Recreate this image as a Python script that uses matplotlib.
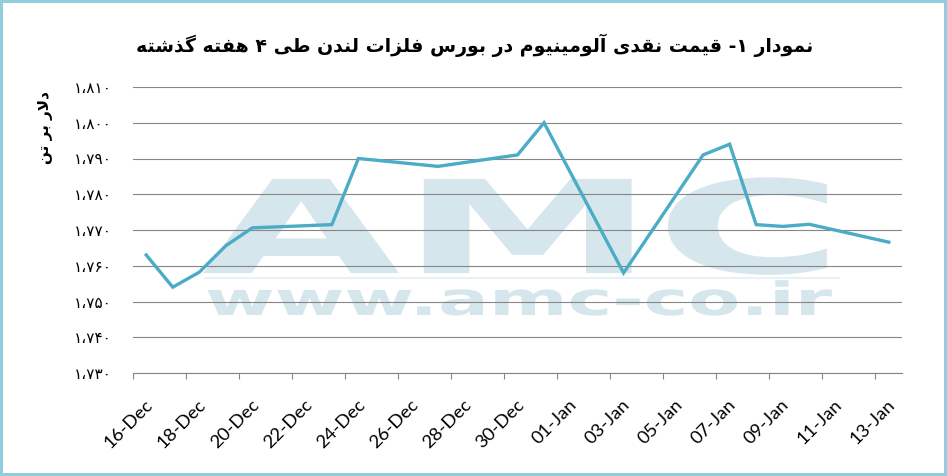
import numpy as np
import matplotlib
matplotlib.use("Agg")
import matplotlib.pyplot as plt
from matplotlib.patches import Rectangle
from matplotlib.lines import Line2D
from matplotlib.patheffects import AbstractPathEffect
from matplotlib.transforms import Affine2D, ScaledTranslation

# ---------------- data ----------------
dates = ["2013-12-16", "2013-12-17", "2013-12-18", "2013-12-19", "2013-12-20",
         "2013-12-23", "2013-12-24", "2013-12-27", "2013-12-30", "2013-12-31",
         "2014-01-03", "2014-01-06", "2014-01-07", "2014-01-08", "2014-01-09",
         "2014-01-10", "2014-01-13"]
prices = [1763.0, 1754.0, 1758.2, 1765.6, 1770.6,
          1771.5, 1790.0, 1787.8, 1791.0, 1800.0,
          1758.0, 1791.0, 1794.0, 1771.5, 1771.0,
          1771.6, 1766.6]
x_tick_dates = ["2013-12-16", "2013-12-18", "2013-12-20", "2013-12-22", "2013-12-24",
                "2013-12-26", "2013-12-28", "2013-12-30", "2014-01-01", "2014-01-03",
                "2014-01-05", "2014-01-07", "2014-01-09", "2014-01-11", "2014-01-13"]
x_tick_labels = ["16-Dec", "18-Dec", "20-Dec", "22-Dec", "24-Dec", "26-Dec", "28-Dec",
                 "30-Dec", "01-Jan", "03-Jan", "05-Jan", "07-Jan", "09-Jan", "11-Jan", "13-Jan"]
y_ticks = [1730, 1740, 1750, 1760, 1770, 1780, 1790, 1800, 1810]
y_tick_labels = ["۱،۷۳۰", "۱،۷۴۰", "۱،۷۵۰", "۱،۷۶۰", "۱،۷۷۰", "۱،۷۸۰", "۱،۷۹۰", "۱،۸۰۰", "۱،۸۱۰"]
title_text = "نمودار ۱- قیمت نقدی آلومینیوم در بورس فلزات لندن طی ۴ هفته گذشته"
ylabel_text = "دلار بر تن"
watermark_big = "AMC"
watermark_url = "www.amc-co.ir"

# ---------------- minimal Persian shaping ----------------
FORMS = {
    'ا': ('\uFE8D', '\uFE8E', None, None),
    'آ': ('\uFE81', '\uFE82', None, None),
    'ب': ('\uFE8F', '\uFE90', '\uFE91', '\uFE92'),
    'ت': ('\uFE95', '\uFE96', '\uFE97', '\uFE98'),
    'د': ('\uFEA9', '\uFEAA', None, None),
    'ذ': ('\uFEAB', '\uFEAC', None, None),
    'ر': ('\uFEAD', '\uFEAE', None, None),
    'ز': ('\uFEAF', '\uFEB0', None, None),
    'س': ('\uFEB1', '\uFEB2', '\uFEB3', '\uFEB4'),
    'ش': ('\uFEB5', '\uFEB6', '\uFEB7', '\uFEB8'),
    'ط': ('\uFEC1', '\uFEC2', '\uFEC3', '\uFEC4'),
    'ف': ('\uFED1', '\uFED2', '\uFED3', '\uFED4'),
    'ق': ('\uFED5', '\uFED6', '\uFED7', '\uFED8'),
    'ك': ('\uFED9', '\uFEDA', '\uFEDB', '\uFEDC'),
    'ل': ('\uFEDD', '\uFEDE', '\uFEDF', '\uFEE0'),
    'م': ('\uFEE1', '\uFEE2', '\uFEE3', '\uFEE4'),
    'ن': ('\uFEE5', '\uFEE6', '\uFEE7', '\uFEE8'),
    'ه': ('\uFEE9', '\uFEEA', '\uFEEB', '\uFEEC'),
    'و': ('\uFEED', '\uFEEE', None, None),
    'ي': ('\uFEF1', '\uFEF2', '\uFEF3', '\uFEF4'),
    'ی': ('\uFBFC', '\uFBFD', '\uFBFE', '\uFBFF'),
    'گ': ('\uFB92', '\uFB93', '\uFB94', '\uFB95'),
    'ک': ('\uFB8E', '\uFB8F', '\uFB90', '\uFB91'),
}
LAMALEF = {'ا': ('\uFEFB', '\uFEFC'), 'آ': ('\uFEF5', '\uFEF6')}


def _jt(c):
    if c in FORMS:
        return 'D' if FORMS[c][2] else 'R'
    return 'U'


def shape(s):
    out = []
    n = len(s)
    i = 0
    while i < n:
        c = s[i]
        jp = i > 0 and _jt(s[i - 1]) == 'D' and _jt(c) != 'U'
        if c == 'ل' and i + 1 < n and s[i + 1] in LAMALEF:
            out.append(LAMALEF[s[i + 1]][1 if jp else 0])
            i += 2
            continue
        if c in FORMS:
            jn = _jt(c) == 'D' and i + 1 < n and _jt(s[i + 1]) != 'U'
            idx = 3 if (jp and jn) else 1 if jp else 2 if jn else 0
            out.append(FORMS[c][idx])
        else:
            out.append(c)
        i += 1
    return ''.join(out)[::-1]


class HStretch(AbstractPathEffect):
    def __init__(self, sx=1.0, cx=0.0):
        super().__init__()
        self.sx = sx
        self.cx = cx

    def draw_path(self, renderer, gc, tpath, affine, rgbFace=None):
        a = affine + Affine2D().translate(-self.cx, 0).scale(self.sx, 1).translate(self.cx, 0)
        renderer.draw_path(gc, tpath, a, rgbFace)


# ---------------- figure ----------------
W, H = 947, 476
fig = plt.figure(figsize=(W / 100, H / 100), dpi=100)
fig.patch.set_facecolor('white')

ax = fig.add_axes([133 / W, (H - 373) / H, (902 - 133) / W, (373 - 87) / H])
ax.set_facecolor('none')

d0 = np.datetime64(dates[0])
xs = (np.array(dates, dtype='datetime64[D]') - d0).astype(int)
xt = (np.array(x_tick_dates, dtype='datetime64[D]') - d0).astype(int)

GRID = '#868686'
LINEC = '#4bacc6'
WM = '#d5e6ec'

ax.plot(xs, prices, color=LINEC, lw=2.4, zorder=3, solid_joinstyle='miter')

ax.set_xlim(-0.5, 28.5)
ax.set_ylim(1730, 1810)
ax.set_yticks(y_ticks)
ax.set_yticklabels(y_tick_labels, fontsize=11, family='DejaVu Sans')
ax.tick_params(axis='y', length=0, pad=15)
ax.yaxis.grid(True, color=GRID, lw=0.8)
ax.set_axisbelow(True)
for s in ['left', 'right', 'top']:
    ax.spines[s].set_visible(False)
ax.spines['bottom'].set_color(GRID)
ax.spines['bottom'].set_linewidth(0.8)

ax.set_xticks(xt)
ax.set_xticks(np.arange(0, 29, 2) - 0.5, minor=True)
ax.set_xticklabels(x_tick_labels, fontsize=13.3, family='Lato')
ax.tick_params(axis='x', which='major', length=0, pad=21)
ax.tick_params(axis='x', which='minor', length=4.3, color=GRID, width=0.8)
off = ScaledTranslation(4 / 100, 0, fig.dpi_scale_trans)
for lab in ax.get_xticklabels():
    lab.set_rotation(45)
    lab.set_ha('right')
    lab.set_va('center')
    lab.set_rotation_mode('anchor')
    lab.set_transform(lab.get_transform() + off)

# watermark
t_big = ax.text(522.5 / W, (H - 273) / H, watermark_big, transform=fig.transFigure,
                ha='center', va='baseline', fontsize=92.8, fontweight='bold',
                family='DejaVu Sans', color=WM, zorder=0.1)
t_url = ax.text(519 / W, (H - 315) / H, watermark_url, transform=fig.transFigure,
                ha='center', va='baseline', fontsize=33, fontweight='bold',
                family='DejaVu Sans', color=WM, zorder=0.1)
fig.add_artist(Line2D([205 / W, 839 / W], [(H - 278) / H] * 2, color='#e8f1f5', lw=1.5,
                      transform=fig.transFigure, zorder=0.05))

# title & y label
fig.text(475 / W, 1 - 45 / H, shape(title_text), ha='center', va='center',
         fontsize=13.6, fontweight='bold', family='DejaVu Sans')
fig.text(45 / W, 1 - 127 / H, shape(ylabel_text), ha='center', va='center',
         rotation=90, fontsize=11, fontweight='bold', family='DejaVu Sans')

# border
fig.add_artist(Rectangle((0, 0), 1, 1, transform=fig.transFigure, fill=False,
                         ec='#93cddd', lw=4.3, zorder=10))

# fit watermark widths
fig.canvas.draw()
r = fig.canvas.get_renderer()
for t, target, cx in [(t_big, 641, 522.5), (t_url, 628, 519)]:
    bb = t.get_window_extent(r)
    t.set_path_effects([HStretch(target / bb.width, cx)])

fig.savefig('out.png', dpi=100, facecolor='white')
